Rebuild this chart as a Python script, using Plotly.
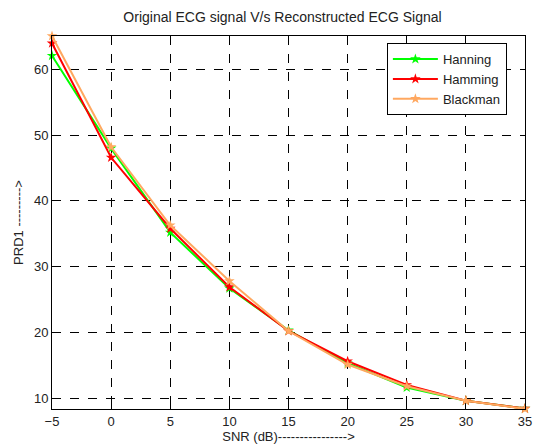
import plotly.graph_objects as go

snr = [-5, 0, 5, 10, 15, 20, 25, 30, 35]
hanning = [62.1, 48.0, 35.2, 26.7, 20.3, 15.3, 11.6, 9.6, 8.4]
hamming = [64.0, 46.6, 35.8, 26.9, 20.2, 15.6, 12.0, 9.6, 8.4]
blackman = [65.1, 48.2, 36.3, 27.8, 20.2, 15.1, 11.8, 9.6, 8.35]
xticks = [-5, 0, 5, 10, 15, 20, 25, 30, 35]
yticks = [10, 20, 30, 40, 50, 60]

fig = go.Figure()
for name, vals, col in [("Hanning", hanning, "#00ff00"),
                        ("Hamming", hamming, "#ff0000"),
                        ("Blackman", blackman, "#ffa860")]:
    fig.add_trace(go.Scatter(x=snr, y=vals, name=name, mode="lines+markers",
                             line=dict(color=col, width=2), cliponaxis=False,
                             marker=dict(symbol="star", size=8, color=col)))

axis_common = dict(showline=True, linecolor="black", linewidth=1, mirror="allticks",
                   ticks="inside", ticklen=5, tickcolor="black",
                   showgrid=True, gridcolor="black", griddash="dash", gridwidth=1,
                   zeroline=False, tickfont=dict(size=13, color="#222"),
                   ticklabeloverflow="allow")

fig.update_layout(
    width=533, height=448,
    margin=dict(l=52, r=8, t=36, b=39, autoexpand=False),
    paper_bgcolor="white", plot_bgcolor="white",
    font=dict(family="Liberation Sans, Arial, sans-serif", size=13, color="#222"),
    title=dict(text="Original ECG signal V/s Reconstructed ECG Signal", x=0.53, xanchor="center",
               y=0.962, yanchor="middle", font=dict(size=14)),
    xaxis=dict(range=[-5, 35], tickvals=xticks,
               title=dict(text="SNR (dB)---------------->", standoff=3, font=dict(size=13)),
               **axis_common),
    yaxis=dict(range=[8.33, 65.1], tickvals=yticks,
               title=dict(text="PRD1 --------->", standoff=7, font=dict(size=13)),
               **axis_common),
    legend=dict(x=0.708, y=0.981, xanchor="left", yanchor="top",
                bordercolor="black", borderwidth=1, bgcolor="white",
                itemwidth=45, font=dict(size=13)),
)
fig.write_html("out.html", config={"displayModeBar": False},
               post_script="document.body.style.margin='0';document.body.style.overflow='hidden';")
